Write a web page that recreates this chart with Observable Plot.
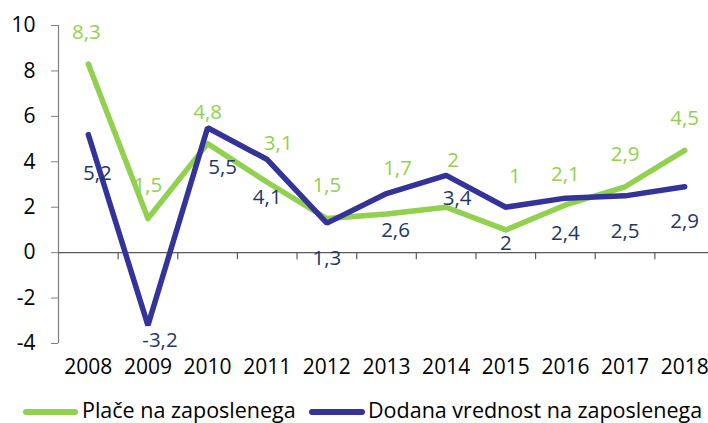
<!DOCTYPE html>
<html>
<head>
<meta charset="utf-8">
<script src="https://cdn.jsdelivr.net/npm/d3@7"></script>
<script src="https://cdn.jsdelivr.net/npm/@observablehq/plot@0.6"></script>
<style>
  html, body { margin: 0; padding: 0; background: #fff; }
  #wrap { position: relative; width: 708px; height: 423px; overflow: hidden; font-family: "Open Sans", sans-serif; }
  #legend { position: absolute; left: 0; top: 398px; width: 708px; height: 25px; font-size: 21.5px; color: #000; }
  .sw { position: absolute; height: 6px; border-radius: 3px; top: 11px; }
  .lt { position: absolute; top: -2px; line-height: 28px; white-space: nowrap; }
</style>
</head>
<body>
<div id="wrap">
  <div id="chart"></div>
  <div id="legend"></div>
</div>
<script>
const years = [2008, 2009, 2010, 2011, 2012, 2013, 2014, 2015, 2016, 2017, 2018];
const place = [8.3, 1.5, 4.8, 3.1, 1.5, 1.7, 2.0, 1.0, 2.1, 2.9, 4.5];
const dodana = [5.2, -3.2, 5.5, 4.1, 1.3, 2.6, 3.4, 2.0, 2.4, 2.5, 2.9];
const yTicks = [-4, -2, 0, 2, 4, 6, 8, 10];
const seriesNames = ["Plače na zaposlenega", "Dodana vrednost na zaposlenega"];

// label nudges (px) relative to each point
const placeNudgeX = [-2, 0, 0, 11, 0, 11, 7, 9, 0, 0, 0];
const placeNudgeY = [-32, -33, -31, -39, -33, -46, -47, -53, -31, -32, -32];
const dodanaNudgeX = [9, 12, 15, 0, 0, 9, 11, 0, 0, 0, 0];
const dodanaNudgeY = [39, 15, 40, 38, 35, 37, 23, 36, 35, 36, 35];

const green = "#92d050";
const blue = "#333399";
const blueText = "#1f3864";

const fmt = v => String(v).replace(".", ",");

const placeData = years.map((y, i) => ({year: y, v: place[i]}));
const dodanaData = years.map((y, i) => ({year: y, v: dodana[i]}));
const bounds = years.map(y => y + 0.5);

const labelMarks = [];
placeData.forEach((d, i) => labelMarks.push(Plot.text([d], {
  x: "year", y: "v", text: d => fmt(d.v), fill: green,
  dx: placeNudgeX[i], dy: placeNudgeY[i], fontSize: 20.5
})));
dodanaData.forEach((d, i) => labelMarks.push(Plot.text([d], {
  x: "year", y: "v", text: d => fmt(d.v), fill: blueText,
  dx: dodanaNudgeX[i], dy: dodanaNudgeY[i], fontSize: 20.5
})));

const chart = Plot.plot({
  width: 708,
  height: 423,
  marginLeft: 58,
  marginRight: -6,
  marginTop: 25,
  marginBottom: 80,
  style: {fontFamily: "Open Sans, sans-serif", fontSize: "21px", color: "#000", background: "#fff"},
  x: {type: "linear", domain: [years[0] - 0.5, years[years.length - 1] + 0.5]},
  y: {domain: [-4, 10]},
  marks: [
    Plot.axisY({ticks: yTicks, tickSize: 7, tickPadding: 16, tickFormat: d => String(d), label: null, stroke: "#7f7f7f", fontSize: 21, fill: "#000"}),
    Plot.axisX({ticks: years, tickSize: 0, tickPadding: 16, tickFormat: d => String(d), label: null, fontSize: 21, fill: "#000"}),
    Plot.ruleX([years[0] - 0.5], {y1: -4, y2: 10, stroke: "#7f7f7f", strokeWidth: 1.2}),
    Plot.ruleY([0], {stroke: "#595959", strokeWidth: 1.2}),
    Plot.ruleX(bounds, {x: d => d, y1: 0, y2: 0, insetBottom: -7, stroke: "#595959", strokeWidth: 1.2}),
    Plot.line(placeData, {x: "year", y: "v", stroke: green, strokeWidth: 5.5, strokeLinejoin: "round", strokeLinecap: "round"}),
    Plot.line(dodanaData, {x: "year", y: "v", stroke: blue, strokeWidth: 5.5, strokeLinejoin: "miter", strokeLinecap: "round"}),
    ...labelMarks
  ]
});
document.getElementById("chart").appendChild(chart);

const legend = document.getElementById("legend");
legend.innerHTML =
  `<div class="sw" style="left:23px;width:55px;background:${green}"></div>` +
  `<div class="lt" style="left:82px">${seriesNames[0]}</div>` +
  `<div class="sw" style="left:309px;width:56px;background:${blue}"></div>` +
  `<div class="lt" style="left:368px">${seriesNames[1]}</div>`;
</script>
</body>
</html>
